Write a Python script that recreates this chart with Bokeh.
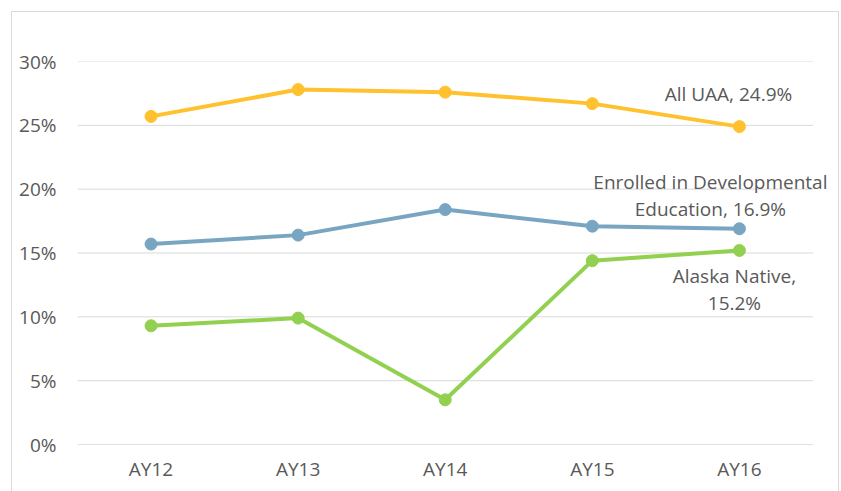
from bokeh.plotting import figure
from bokeh.models import FixedTicker, PrintfTickFormatter, Range1d, Label
from bokeh.embed import file_html
from bokeh.resources import INLINE

categories = ["AY12", "AY13", "AY14", "AY15", "AY16"]
all_uaa = [25.7, 27.8, 27.6, 26.7, 24.9]
dev_ed = [15.7, 16.4, 18.4, 17.1, 16.9]
alaska_native = [9.3, 9.9, 3.5, 14.4, 15.2]
y_ticks = [0, 5, 10, 15, 20, 25, 30]

FONT = "Open Sans"
TXT = "#595959"
FS = "19px"

xs = list(range(len(categories)))
x0, x1 = -0.5, len(categories) - 0.5

p = figure(width=826, height=479, output_backend="svg", toolbar_location=None,
           x_range=Range1d(x0, x1 + 0.16), y_range=Range1d(0, 30),
           min_border_left=65, min_border_right=2, min_border_top=49, min_border_bottom=47)
p.margin = (12, 3, 0, 12)
p.styles = {"outline": "1px solid #d9d9d9"}
p.outline_line_color = None
p.background_fill_color = "white"
p.border_fill_color = "white"

p.xgrid.visible = False
p.ygrid.visible = False

# horizontal gridlines spanning the category area only
p.segment(x0=[x0] * (len(y_ticks) - 1), x1=[x1] * (len(y_ticks) - 1),
          y0=y_ticks[1:], y1=y_ticks[1:], line_color="#d9d9d9", line_width=1)
p.segment(x0=[x0], x1=[x1], y0=[y_ticks[0]], y1=[y_ticks[0]],
          line_color="#bfbfbf", line_width=1)

p.yaxis.ticker = FixedTicker(ticks=y_ticks)
p.yaxis.formatter = PrintfTickFormatter(format="%d%%")
p.yaxis.axis_line_color = None
p.yaxis.major_tick_line_color = None
p.yaxis.minor_tick_line_color = None
p.yaxis.major_label_standoff = 15

p.xaxis.ticker = FixedTicker(ticks=xs)
p.xaxis.major_label_overrides = {i: c for i, c in enumerate(categories)}
p.xaxis.axis_line_color = None
p.xaxis.major_tick_line_color = None
p.xaxis.minor_tick_line_color = None
p.xaxis.major_label_standoff = 5

for ax in (p.xaxis, p.yaxis):
    ax.major_label_text_font = FONT
    ax.major_label_text_font_size = FS
    ax.major_label_text_color = TXT

series = [
    (all_uaa, "#FFC12E"),
    (dev_ed, "#78A6C2"),
    (alaska_native, "#92D050"),
]
for vals, col in series:
    p.line(xs, vals, line_color=col, line_width=4)
    p.scatter(xs, vals, size=12, fill_color=col, line_color=col)

last = xs[-1]
labels = [
    ("All UAA, %.1f%%" % all_uaa[-1], all_uaa[-1], -11, 33),
    ("Enrolled in Developmental\nEducation, %.1f%%" % dev_ed[-1], dev_ed[-1], -29, 33),
    ("Alaska Native,\n%.1f%%" % alaska_native[-1], alaska_native[-1], -5, -39),
]
for txt, yv, dx, dy in labels:
    p.add_layout(Label(x=last, y=yv, x_offset=dx, y_offset=dy, text=txt,
                       text_align="center", text_baseline="middle",
                       text_font=FONT, text_font_size=FS, text_color=TXT,
                       text_line_height=1.03))

open("out.html", "w").write(file_html(p, INLINE))
